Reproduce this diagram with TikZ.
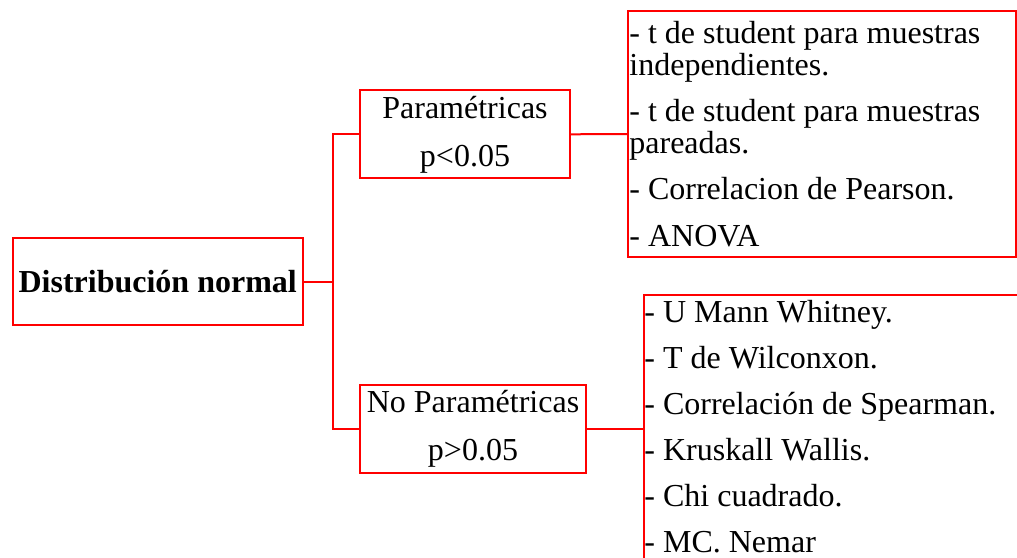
\documentclass[tikz,border=0pt]{standalone}
\usepackage{fontspec}
\setmainfont{Liberation Serif}
\usetikzlibrary{positioning}

\begin{document}
\begin{tikzpicture}[x=0.5pt,y=-0.5pt,font=\fontsize{16}{24}\selectfont]
	\tikzstyle{box}=[rectangle, draw=red, line width=1pt, inner sep=0pt]
	\tikzstyle{group}=[box, align=center, minimum height=44pt]
	\tikzstyle{tests}=[align=left, inner sep=0pt, anchor=north west]
	\tikzstyle{conn}=[draw=red, line width=1pt]

	\useasboundingbox (0,0) rectangle (1017,557);
	\clip (0,0) rectangle (1017,557);

	\node [box, minimum width=145pt, minimum height=43.5pt, font=\fontsize{16}{24}\selectfont\bfseries] (dist) at (157.7,281.5) {Distribución normal};
	\node [group, minimum width=105pt] (param) at (465,134.3) {Paramétricas\\p<0.05};
	\node [group, minimum width=113pt] (noparam) at (473,428.8) {No Paramétricas\\p>0.05};

	\node [box, minimum width=194pt, minimum height=123pt] (parlist) at (822,134) {};
	\node [box, minimum width=200pt, minimum height=133.8pt, anchor=west] (nplist) at (643,428.8) {};

	\node [tests, font=\fontsize{16}{15.75}\selectfont] (partext) at (629,21) {- t de student para muestras\\independientes.\\[7.5pt]- t de student para muestras\\pareadas.\\[7.5pt]- Correlacion de Pearson.\\[7.5pt]- ANOVA};
	\node [tests, font=\fontsize{16}{23}\selectfont] (nptext) at (644,300) {- U Mann Whitney.\\- T de Wilconxon.\\- Correlación de Spearman.\\- Kruskall Wallis.\\- Chi cuadrado.\\- MC. Nemar};

	\draw [conn] (dist.east) -- ++(29,0) coordinate (trunk) |- (param.west);
	\draw [conn] (trunk) |- (noparam.west);
	\draw [conn] (param.east) -- (parlist.west);
	\draw [conn] (noparam.east) -- (nplist.west);
\end{tikzpicture}
\end{document}
